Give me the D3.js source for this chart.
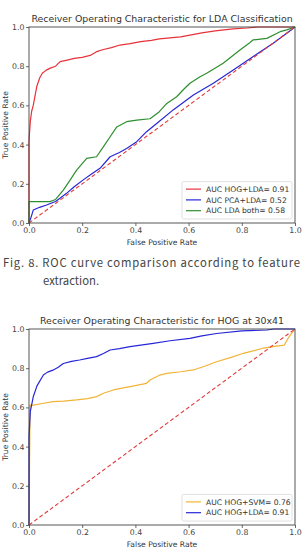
<!DOCTYPE html>
<html>
<head>
<meta charset="utf-8">
<script src="https://cdn.jsdelivr.net/npm/d3@7"></script>
<style>
  body { margin: 0; background: #fff; }
  svg { display: block; }
</style>
</head>
<body>
<div id="page"></div>
<script>
// ---- data ----
const ticks = [0, 0.2, 0.4, 0.6, 0.8, 1.0];

// Fig. 8 (top)
const hogLdaFpr = [0, 0, 0.005, 0.01, 0.016, 0.029, 0.04, 0.05, 0.065, 0.08, 0.1, 0.117, 0.14, 0.17, 0.2, 0.23, 0.254, 0.28, 0.31, 0.342, 0.38, 0.42, 0.46, 0.49, 0.53, 0.57, 0.605, 0.65, 0.7, 0.767, 0.82, 0.86, 0.9, 1];
const hogLdaTpr = [0, 0.42, 0.52, 0.57, 0.6, 0.695, 0.74, 0.764, 0.78, 0.79, 0.8, 0.823, 0.83, 0.84, 0.845, 0.855, 0.874, 0.885, 0.895, 0.908, 0.915, 0.925, 0.932, 0.939, 0.945, 0.95, 0.959, 0.97, 0.98, 0.99, 0.995, 1, 1, 1];

const pcaLdaFpr = [0, 0.008, 0.016, 0.04, 0.066, 0.1, 0.14, 0.17, 0.204, 0.235, 0.267, 0.305, 0.34, 0.367, 0.405, 0.442, 0.48, 0.542, 0.618, 0.693, 0.768, 0.843, 0.918, 0.969, 1];
const pcaLdaTpr = [0, 0.03, 0.066, 0.08, 0.092, 0.11, 0.15, 0.185, 0.22, 0.25, 0.279, 0.338, 0.36, 0.38, 0.415, 0.466, 0.508, 0.577, 0.653, 0.713, 0.781, 0.849, 0.917, 0.968, 1];

const ldaBothFpr = [0, 0, 0.04, 0.079, 0.1, 0.129, 0.155, 0.179, 0.217, 0.254, 0.28, 0.305, 0.33, 0.367, 0.405, 0.455, 0.49, 0.518, 0.555, 0.58, 0.605, 0.643, 0.668, 0.73, 0.793, 0.83, 0.842, 0.894, 0.944, 0.969, 1];
const ldaBothTpr = [0, 0.109, 0.109, 0.109, 0.12, 0.168, 0.22, 0.27, 0.33, 0.338, 0.39, 0.44, 0.49, 0.517, 0.525, 0.532, 0.568, 0.61, 0.644, 0.68, 0.713, 0.746, 0.764, 0.815, 0.883, 0.92, 0.934, 0.942, 0.976, 0.985, 1];

// Fig. 9 (bottom)
const hogSvmFpr = [0, 0.004, 0.016, 0.05, 0.09, 0.13, 0.179, 0.22, 0.254, 0.28, 0.317, 0.35, 0.38, 0.442, 0.455, 0.492, 0.518, 0.57, 0.618, 0.66, 0.705, 0.76, 0.806, 0.88, 0.93, 0.96, 0.975, 1];
const hogSvmTpr = [0, 0.612, 0.612, 0.62, 0.629, 0.632, 0.638, 0.645, 0.655, 0.672, 0.689, 0.698, 0.706, 0.723, 0.74, 0.765, 0.774, 0.782, 0.791, 0.81, 0.833, 0.855, 0.876, 0.902, 0.913, 0.918, 0.955, 1];

const hog30Fpr = [0, 0, 0.005, 0.016, 0.03, 0.054, 0.07, 0.09, 0.11, 0.129, 0.16, 0.19, 0.22, 0.254, 0.28, 0.305, 0.34, 0.38, 0.42, 0.467, 0.53, 0.605, 0.65, 0.705, 0.8, 0.894, 0.92, 1];
const hog30Tpr = [0, 0.45, 0.58, 0.654, 0.71, 0.765, 0.78, 0.79, 0.805, 0.824, 0.835, 0.842, 0.85, 0.859, 0.875, 0.893, 0.9, 0.91, 0.918, 0.927, 0.94, 0.952, 0.965, 0.977, 0.99, 0.995, 1, 1];

const chanceLine = [0, 1];

const width = 306;
const height = 553;
const font = "'DejaVu Sans', sans-serif";

const svg = d3.select("#page")
  .append("svg")
    .attr("width", width)
    .attr("height", height);

const zip = (xs, ys) => xs.map((x, i) => [x, ys[i]]);

const drawRoc = (top, title, series) => {
  const left = 29;
  const right = 295;
  const bottom = top + 196;

  const xScale = d3.scaleLinear().domain([0, 1]).range([left, right]);
  const yScale = d3.scaleLinear().domain([0, 1]).range([bottom, top]);

  const g = svg.append("g");

  // curves
  const line = d3.line()
    .x(d => xScale(d[0]))
    .y(d => yScale(d[1]));

  series.forEach(s => {
    g.append("path")
      .datum(zip(s.fpr, s.tpr))
      .attr("d", line)
      .attr("fill", "none")
      .attr("stroke", s.color)
      .attr("stroke-width", 1.2)
      .attr("stroke-linejoin", "round");
  });

  // diagonal
  g.append("path")
    .datum(zip(chanceLine, chanceLine))
    .attr("d", line)
    .attr("fill", "none")
    .attr("stroke", "#e33a3a")
    .attr("stroke-width", 1.1)
    .attr("stroke-dasharray", "4,2.5");

  // axes
  const bottomAxis = d3.axisBottom(xScale)
    .tickValues(ticks)
    .tickFormat(d3.format(".1f"))
    .tickSize(3)
    .tickPadding(1.5)
    .tickSizeOuter(0);
  const xAxis = g.append("g")
    .attr("transform", `translate(0, ${bottom})`)
    .call(bottomAxis);

  const leftAxis = d3.axisLeft(yScale)
    .tickValues(ticks)
    .tickFormat(d3.format(".1f"))
    .tickSize(3)
    .tickPadding(1.5)
    .tickSizeOuter(0);
  const yAxis = g.append("g")
    .attr("transform", `translate(${left}, 0)`)
    .call(leftAxis);

  [xAxis, yAxis].forEach(a => {
    a.select(".domain").remove();
    a.selectAll("line").attr("stroke", "#444").attr("stroke-width", 0.8);
    a.selectAll("text")
      .attr("fill", "#444")
      .style("font-family", font)
      .style("font-size", "7.8px");
  });

  // frame
  g.append("rect")
    .attr("x", left)
    .attr("y", top)
    .attr("width", right - left)
    .attr("height", bottom - top)
    .attr("fill", "none")
    .attr("stroke", "#444")
    .attr("stroke-width", 0.9);

  // title and axis labels
  g.append("text")
    .text(title)
    .attr("x", (left + right) / 2)
    .attr("y", top - 5)
    .attr("text-anchor", "middle")
    .attr("fill", "#333")
    .style("font-family", font)
    .style("font-size", "9.4px");

  g.append("text")
    .text("False Positive Rate")
    .attr("x", (left + right) / 2)
    .attr("y", bottom + 22)
    .attr("text-anchor", "middle")
    .attr("fill", "#333")
    .style("font-family", font)
    .style("font-size", "7.6px");

  g.append("text")
    .text("True Positive Rate")
    .attr("transform", `translate(8, ${(top + bottom) / 2}) rotate(-90)`)
    .attr("text-anchor", "middle")
    .attr("fill", "#333")
    .style("font-family", font)
    .style("font-size", "7.6px");

  // legend
  const rowH = 10.8;
  const boxH = series.length * rowH + 5;
  const boxX = 182;
  const boxY = bottom - 4 - boxH;
  g.append("rect")
    .attr("x", boxX)
    .attr("y", boxY)
    .attr("width", 110)
    .attr("height", boxH)
    .attr("rx", 1.5)
    .attr("fill", "#fff")
    .attr("stroke", "#d8d8d8")
    .attr("stroke-width", 0.8);

  series.forEach((s, i) => {
    const y = boxY + 7.5 + i * rowH;
    g.append("line")
      .attr("x1", boxX + 4)
      .attr("x2", boxX + 19)
      .attr("y1", y)
      .attr("y2", y)
      .attr("stroke", s.color)
      .attr("stroke-width", 1.2);
    g.append("text")
      .text(s.label)
      .attr("x", boxX + 24)
      .attr("y", y + 2.7)
      .attr("fill", "#333")
      .style("font-family", font)
      .style("font-size", "7.6px");
  });
};

drawRoc(27, "Receiver Operating Characteristic for LDA Classification", [
  {label: "AUC HOG+LDA= 0.91", color: "#e8323a", fpr: hogLdaFpr, tpr: hogLdaTpr},
  {label: "AUC PCA+LDA= 0.52", color: "#2626d6", fpr: pcaLdaFpr, tpr: pcaLdaTpr},
  {label: "AUC LDA both= 0.58", color: "#2e8f2e", fpr: ldaBothFpr, tpr: ldaBothTpr}
]);

drawRoc(329, "Receiver Operating Characteristic for HOG at 30x41", [
  {label: "AUC HOG+SVM= 0.76", color: "#f2b437", fpr: hogSvmFpr, tpr: hogSvmTpr},
  {label: "AUC HOG+LDA= 0.91", color: "#2626d6", fpr: hog30Fpr, tpr: hog30Tpr}
]);

// caption
const captionFont = "'Noto Sans CJK KR', 'Noto Sans', sans-serif";
svg.append("text")
  .text("Fig. 8. ROC curve comparison according to feature")
  .attr("x", 3)
  .attr("y", 267)
  .attr("textLength", 297)
  .attr("lengthAdjust", "spacing")
  .attr("fill", "#444")
  .style("font-family", captionFont)
  .style("font-size", "11.3px");
svg.append("text")
  .text("extraction.")
  .attr("x", 43)
  .attr("y", 284.5)
  .attr("fill", "#444")
  .style("font-family", captionFont)
  .style("font-size", "11.3px");
</script>
</body>
</html>
